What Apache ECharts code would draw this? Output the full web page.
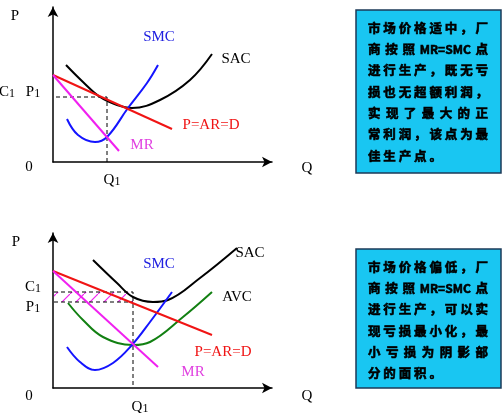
<!DOCTYPE html>
<html>
<head>
<meta charset="utf-8">
<script src="https://cdn.jsdelivr.net/npm/echarts@6/dist/echarts.min.js"></script>
<style>html,body{margin:0;padding:0;background:#fff;}#c{width:502px;height:413px;}</style>
</head>
<body>
<div id="c"></div>
<script>
// ---- Data (Q, P) in chart units ----
// Upper panel
const topSAC = [[13,97],[30,80],[47,65],[64,57],[79,54],[107,62],[137,82],[159,108]];
const topSMC = [[14,43],[25,27],[42,20],[54,25],[75,54],[94,79],[105,97]];
const topD   = [[0,87],[119,33]];
const topMR  = [[0,87],[66,11]];
const topP1 = 65, topQ1 = 54;
// Lower panel
const botSAC = [[40,128],[64,105],[80,91],[100,86],[115,88],[147,110],[184,140]];
const botAVC = [[15,85],[30,68],[50,51],[80,43],[97,46],[130,71],[159,96]];
const botSMC = [[14,41],[27,26],[42,18],[60,25],[79,43],[97,66],[119,96]];
const botD   = [[0,117],[159,53]];
const botMR  = [[0,117],[105,21]];
const botC1 = 96, botP1 = 86, botQ1 = 80;

const box1Lines = [
  ['市','场','价','格','适','中','，','厂'],
  ['商','按','照','MR=SMC','点'],
  ['进','行','生','产','，','既','无','亏'],
  ['损','也','无','超','额','利','润','，'],
  ['实','现','了','最','大','的','正'],
  ['常','利','润','，','该','点','为','最'],
  ['佳','生','产','点','。']
];
const box2Lines = [
  ['市','场','价','格','偏','低','，','厂'],
  ['商','按','照','MR=SMC','点'],
  ['进','行','生','产','，','可','以','实'],
  ['现','亏','损','最','小','化','，','最'],
  ['小','亏','损','为','阴','影','部'],
  ['分','的','面','积','。']
];

// ---- Styles ----
const C = {black:'#000000', blue:'#1414ff', red:'#f01414', mag:'#f020f0', green:'#128012'};
const serif = '"Liberation Serif","Times New Roman",serif';
const cjk = '"Noto Sans CJK SC",sans-serif';

const chart = echarts.init(document.getElementById('c'));

function axisPair(idx){
  const common = {
    type:'value', gridIndex:idx, min:0,
    axisTick:{show:false}, axisLabel:{show:false}, splitLine:{show:false},
    axisLine:{show:true, symbol:['none','arrow'], symbolSize:[8,10], lineStyle:{color:'#000', width:1.5}}
  };
  return {
    x: Object.assign({}, common, {max:219}),
    y: Object.assign({}, common, {max:155})
  };
}
const a0 = axisPair(0), a1 = axisPair(1);

function curve(data, color, idx, smooth){
  return {type:'line', xAxisIndex:idx, yAxisIndex:idx, data:data, showSymbol:false,
    smooth: smooth===undefined?0.4:smooth, lineStyle:{color:color, width:2}, silent:true, z:3};
}
function guide(data, idx){
  return {type:'line', xAxisIndex:idx, yAxisIndex:idx, data:data, showSymbol:false,
    lineStyle:{color:'#000', width:1, type:[4,3]}, silent:true, z:2};
}

// hatch pattern
const pc = document.createElement('canvas');
pc.width = 14; pc.height = 14;
const pctx = pc.getContext('2d');
pctx.strokeStyle = C.mag; pctx.lineWidth = 1.2;
pctx.beginPath();
pctx.moveTo(-1,15); pctx.lineTo(15,-1);
pctx.stroke();

const series = [
  // top
  guide([[3,topP1],[topQ1,topP1],[topQ1,0]], 0),
  curve(topSAC, C.black, 0),
  curve(topSMC, C.blue, 0),
  curve(topD, C.red, 0, false),
  curve(topMR, C.mag, 0, false),
  // bottom
  Object.assign(guide([[1,botC1],[botQ1,botC1],[botQ1,0]], 1), {
    markArea:{silent:true, itemStyle:{color:{image:pc, repeat:'repeat'}},
      data:[[{coord:[1,botC1]},{coord:[botQ1,botP1]}]]}
  }),
  guide([[1,botP1],[botQ1,botP1]], 1),
  curve(botSAC, C.black, 1),
  curve(botAVC, C.green, 1),
  curve(botSMC, C.blue, 1),
  curve(botD, C.red, 1, false),
  curve(botMR, C.mag, 1, false)
];

// ---- text graphics ----
const g = [];
function lbl(x, y, main, sub, color){
  const t = sub ? '{m|'+main+'}{s|'+sub+'}' : '{m|'+main+'}';
  g.push({type:'text', x:x, y:y, z:10, style:{text:t, align:'center', verticalAlign:'middle',
    fill:color||'#000',
    rich:{m:{fontFamily:serif, fontSize:15, fill:color||'#000'},
          s:{fontFamily:serif, fontSize:12, fill:color||'#000', padding:[3,0,0,0]}}}});
}
// top panel labels
lbl(15,16,'P'); lbl(7,92,'C','1'); lbl(33,92,'P','1'); lbl(29,167,'0'); lbl(307,168,'Q');
lbl(112,180,'Q','1');
lbl(159,37,'SMC',null,'#2020e0'); lbl(236,59,'SAC'); lbl(211,125,'P=AR=D',null,C.red); lbl(142,145,'MR',null,'#e040e0');
// bottom panel labels
lbl(16,242,'P'); lbl(33,287,'C','1'); lbl(33,307,'P','1'); lbl(29,396,'0'); lbl(307,396,'Q');
lbl(140,407,'Q','1');
lbl(159,264,'SMC',null,'#2020e0'); lbl(250,253,'SAC'); lbl(237,297,'AVC');
lbl(223,352,'P=AR=D',null,C.red); lbl(193,372,'MR',null,'#e040e0');

// boxes
const boxFill = '#19c6f2', boxStroke = '#1c3a58';
g.push({type:'rect', z:1, shape:{x:356,y:10,width:145,height:163}, style:{fill:boxFill, stroke:boxStroke, lineWidth:1.5}});
g.push({type:'rect', z:1, shape:{x:356,y:249,width:145,height:139}, style:{fill:boxFill, stroke:boxStroke, lineWidth:1.5}});

const mctx = document.createElement('canvas').getContext('2d');
const FS = 12.5;
function tokW(t){
  if (t.length === 1) return FS;
  mctx.font = 'bold 12px ' + cjk;
  return mctx.measureText(t).width;
}
function boxText(lines, L, R, y0, dy){
  const natPitch = (R - L - FS) / 7;
  lines.forEach((toks, i) => {
    const y = y0 + i*dy;
    const widths = toks.map(tokW);
    const total = widths.reduce((a,b)=>a+b,0);
    let gap = (R - L - total) / (toks.length - 1);
    const isLast = (i === lines.length - 1);
    if (isLast) gap = natPitch - FS;
    let x = L;
    toks.forEach((t, k) => {
      g.push({type:'text', z:5, x:x, y:y, style:{text:t, align:'left', verticalAlign:'middle',
        fill:'#000', stroke:'#000', lineWidth:0.6, fontFamily:cjk, fontWeight:'bold', fontSize: t.length===1?FS:12}});
      x += widths[k] + gap;
    });
  });
}
boxText(box1Lines, 368, 488, 28, 21.3);
boxText(box2Lines, 368, 488, 267, 21.3);

chart.setOption({
  animation:false,
  backgroundColor:'#fff',
  grid:[
    {left:53, top:7, width:219, height:155},
    {left:53, top:233, width:219, height:155}
  ],
  xAxis:[a0.x, a1.x],
  yAxis:[a0.y, a1.y],
  series: series,
  graphic: g
});
</script>
</body>
</html>
